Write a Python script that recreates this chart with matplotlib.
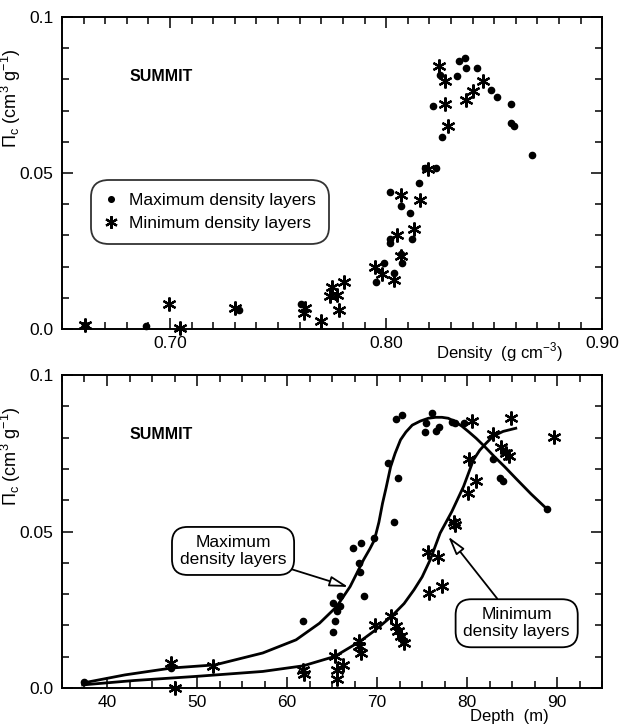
import numpy as np
import matplotlib.pyplot as plt
from matplotlib.ticker import MultipleLocator, FixedLocator

plt.rcParams['font.family'] = ['Liberation Sans', 'DejaVu Sans']
plt.rcParams['font.size'] = 11

# top panel: closed pore volume vs density
dens_max = [0.6607, 0.689, 0.7318, 0.7607, 0.7953, 0.799, 0.8019, 0.8019, 0.802, 0.8037,
            0.807, 0.807, 0.8075, 0.8112, 0.812, 0.815, 0.8178, 0.823, 0.8215, 0.825,
            0.826, 0.8327, 0.8336, 0.8364, 0.837, 0.842, 0.8486, 0.8514, 0.858, 0.858,
            0.8594, 0.8673]
nc_max_d = [0.0014, 0.001, 0.0062, 0.0081, 0.015, 0.021, 0.0438, 0.0276, 0.029, 0.018,
            0.0393, 0.024, 0.021, 0.0372, 0.029, 0.0468, 0.0516, 0.0516, 0.0714, 0.0815,
            0.0617, 0.0812, 0.0858, 0.0869, 0.0837, 0.0837, 0.0765, 0.0744, 0.0721, 0.066,
            0.0652, 0.0559]
dens_min = [0.6607, 0.6996, 0.7047, 0.7299, 0.7626, 0.762, 0.7697, 0.7748, 0.774, 0.7772,
            0.7781, 0.7804, 0.795, 0.7981, 0.8037, 0.8052, 0.807, 0.807, 0.8131, 0.8155,
            0.8193, 0.8243, 0.8271, 0.8271, 0.8286, 0.837, 0.8402, 0.8449]
nc_min_d = [0.0014, 0.0081, 0.0003, 0.0067, 0.0067, 0.005, 0.0025, 0.0135, 0.0105, 0.011,
            0.0062, 0.015, 0.020, 0.0177, 0.0158, 0.0302, 0.0431, 0.0233, 0.032, 0.0412,
            0.0513, 0.0842, 0.0794, 0.0722, 0.065, 0.0733, 0.0762, 0.0794]

# bottom panel: closed pore volume vs depth
depth_max = [37.5, 47.1, 61.8, 65.1, 65.1, 65.3, 65.5, 65.9, 65.9, 67.3, 68.0, 68.1, 68.2,
             68.5, 69.7, 71.2, 72.3, 71.9, 72.1, 72.8, 75.3, 75.4, 76.1, 76.5, 76.9, 78.3,
             78.7, 79.6, 82.9, 83.7, 84.0, 88.9]
nc_max = [0.0018, 0.0064, 0.0213, 0.0273, 0.018, 0.0213, 0.0245, 0.0263, 0.0293, 0.0447,
          0.040, 0.0372, 0.0465, 0.0293, 0.0479, 0.0718, 0.067, 0.0529, 0.0859, 0.0872,
          0.0819, 0.0848, 0.088, 0.0822, 0.0835, 0.0851, 0.0848, 0.0848, 0.0731, 0.067,
          0.0663, 0.0571]
depth_min = [47.1, 47.6, 51.8, 61.8, 61.9, 65.3, 65.5, 65.6, 66.2, 68.0, 68.0, 68.2, 69.8,
             71.5, 72.1, 72.3, 72.6, 73.0, 75.6, 75.8, 76.8, 77.2, 78.5, 78.7, 80.1, 81.0,
             80.2, 80.5, 82.9, 83.8, 84.3, 84.7, 84.9, 89.6]
nc_min = [0.008, 0.0, 0.0071, 0.0059, 0.0046, 0.0103, 0.0059, 0.0029, 0.0074, 0.0149,
          0.0135, 0.0112, 0.0202, 0.0231, 0.0197, 0.0181, 0.0167, 0.0144, 0.0436, 0.0305,
          0.042, 0.0327, 0.0529, 0.0521, 0.0622, 0.066, 0.0731, 0.0854, 0.0812, 0.0769,
          0.075, 0.0741, 0.0862, 0.0801]

# fitted curves
fit_max_x = [37.3, 42.0, 47.2, 52.0, 57.3, 61.0, 63.6, 65.5, 67.0, 68.5, 69.2, 69.7, 70.2,
             70.6, 71.0, 71.5, 72.0, 72.6, 73.2, 73.9, 74.8, 75.7, 76.5, 77.2, 77.9, 78.6,
             79.4, 80.2, 81.0, 82.0, 83.0, 84.2, 85.4, 87.1, 88.9]
fit_max_y = [0.0016, 0.0042, 0.0064, 0.0074, 0.0112, 0.0154, 0.0207, 0.026, 0.0324, 0.041,
             0.0445, 0.0473, 0.053, 0.059, 0.064, 0.0707, 0.075, 0.0793, 0.0818, 0.084,
             0.0853, 0.0862, 0.0865, 0.0865, 0.0862, 0.0852, 0.0837, 0.0818, 0.0798, 0.0770,
             0.074, 0.0706, 0.067, 0.0620, 0.0571]
fit_min_x = [37.3, 43.0, 49.8, 57.3, 61.8, 65.3, 68.1, 69.8, 71.6, 73.0, 74.1, 75.0, 75.9,
             77.0, 78.3, 79.6, 80.7, 81.4, 82.1, 82.9, 84.0, 85.4]
fit_min_y = [0.001, 0.0024, 0.0037, 0.0053, 0.0071, 0.0101, 0.0149, 0.0185, 0.0229, 0.027,
             0.0314, 0.0355, 0.041, 0.0495, 0.0564, 0.0644, 0.0729, 0.0760, 0.0782, 0.0805,
             0.0820, 0.083]

fig = plt.figure(figsize=(6.26, 7.27), dpi=100)
ax1 = fig.add_axes([0.099, 0.5475, 0.863, 0.429])
ax2 = fig.add_axes([0.099, 0.0536, 0.863, 0.4305])

ylab = r'$\mathregular{\Pi_c}$ (cm$^{\mathregular{3}}$ g$^{\mathregular{-1}}$)'

def style(ax):
    ax.set_ylim(0, 0.1)
    ax.yaxis.set_major_locator(FixedLocator([0.0, 0.05, 0.1]))
    ax.set_yticklabels(['0.0', '0.05', '0.1'])
    ax.yaxis.set_minor_locator(MultipleLocator(0.01))
    ax.tick_params(which='both', direction='in', top=True, right=True, width=1.1)
    ax.tick_params(which='major', length=8, labelsize=12.5)
    ax.tick_params(which='minor', length=5)
    ax.tick_params(axis='x', pad=5)
    ax.tick_params(axis='y', pad=6)
    for s in ax.spines.values():
        s.set_linewidth(1.4)
    ax.set_ylabel(ylab, fontsize=13)
    ax.yaxis.set_label_coords(-0.072, 0.74)
    ax.text(0.125, 0.81, 'SUMMIT', transform=ax.transAxes, fontsize=11.5,
            fontweight='bold', va='center')

# top
ax1.plot(dens_max, nc_max_d, 'o', color='black', ms=4.5, clip_on=False,
         label='Maximum density layers')
ax1.plot(dens_min, nc_min_d, ls='none', marker=(6, 2, 0), color='black', ms=10,
         mew=1.6, clip_on=False, label='Minimum density layers')
ax1.set_xlim(0.65, 0.90)
ax1.xaxis.set_major_locator(FixedLocator([0.70, 0.80, 0.90]))
ax1.set_xticklabels(['0.70', '0.80', '0.90'])
ax1.xaxis.set_minor_locator(MultipleLocator(0.01))
style(ax1)
leg = ax1.legend(loc='lower left', bbox_to_anchor=(0.045, 0.255), frameon=True,
                 fancybox=True, edgecolor='black', fontsize=12.5, handlelength=0.8,
                 handletextpad=0.6, borderpad=0.55, labelspacing=0.45, markerscale=0.9)
leg.get_frame().set_linewidth(1.3)
leg.get_frame().set_boxstyle('round', pad=0.2, rounding_size=1.0)
ax1.text(0.81, -0.075, 'Density  (g cm$^{\\mathregular{-3}}$)', transform=ax1.transAxes,
         ha='center', va='center', fontsize=12)

# bottom
ax2.plot(fit_max_x, fit_max_y, '-', color='black', lw=2)
ax2.plot(fit_min_x, fit_min_y, '-', color='black', lw=2)
ax2.plot(depth_max, nc_max, 'o', color='black', ms=4.5, clip_on=False)
ax2.plot(depth_min, nc_min, ls='none', marker=(6, 2, 0), color='black', ms=10,
         mew=1.6, clip_on=False)
ax2.set_xlim(35, 95)
ax2.xaxis.set_major_locator(MultipleLocator(10))
ax2.xaxis.set_minor_locator(MultipleLocator(2.5))
style(ax2)
ax2.text(0.828, -0.09, 'Depth  (m)', transform=ax2.transAxes,
         ha='center', va='center', fontsize=12)

box = dict(boxstyle='round,pad=0.45,rounding_size=0.9', fc='white', ec='black', lw=1.3)
arrow = dict(arrowstyle='-|>,head_length=0.9,head_width=0.25', color='black', lw=1.3,
             fc='white', shrinkA=0, shrinkB=0)
ax2.annotate('Maximum\ndensity layers', xy=(66.8, 0.0323), xytext=(54.0, 0.0438),
             ha='center', va='center', fontsize=12.5, linespacing=1.2, bbox=box,
             arrowprops=arrow)
ax2.annotate('Minimum\ndensity layers', xy=(77.9, 0.0484), xytext=(85.5, 0.0207),
             ha='center', va='center', fontsize=12.5, linespacing=1.2, bbox=box,
             arrowprops=arrow)

fig.savefig('out.png', dpi=100)
